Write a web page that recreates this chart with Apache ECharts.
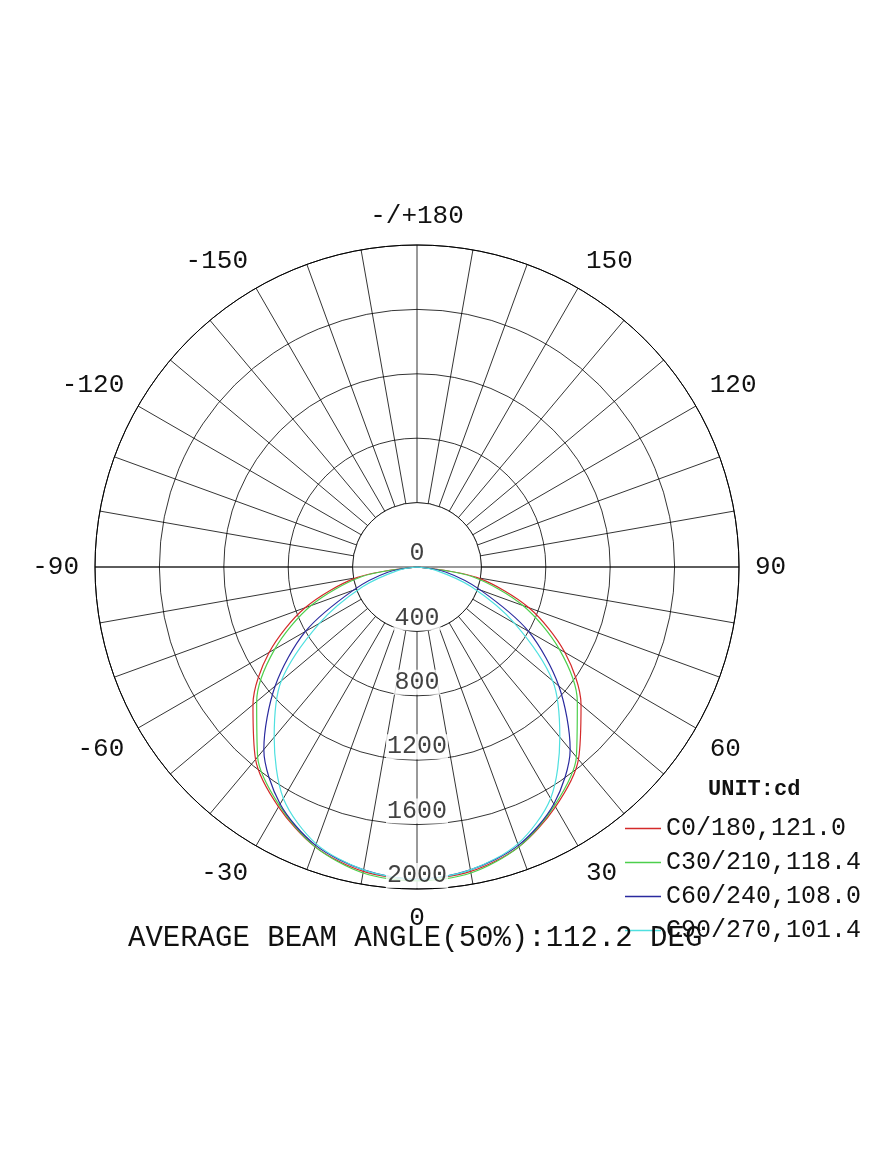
<!DOCTYPE html>
<html><head><meta charset="utf-8">
<script src="https://cdn.jsdelivr.net/npm/echarts@6/dist/echarts.min.js"></script>
<style>html,body{margin:0;padding:0;background:#fff}#c{width:875px;height:1166px}</style>
</head><body><div id="c"></div>
<script>
const angles = [-90,-80,-70,-60,-50,-40,-30,-20,-10,0,10,20,30,40,50,60,70,80,90];
const c0  = [0,380,740,1060,1330,1560,1720,1850,1920,1940,1920,1850,1720,1560,1330,1060,740,380,0];
const c30 = [0,350,700,1020,1300,1540,1710,1850,1930,1950,1930,1850,1710,1540,1300,1020,700,350,0];
const c60 = [0,180,420,800,1150,1480,1700,1840,1910,1940,1910,1840,1700,1480,1150,800,420,180,0];
const c90 = [0,120,360,700,1100,1380,1660,1830,1910,1940,1910,1830,1660,1380,1100,700,360,120,0];
const names = ['C0/180,121.0','C30/210,118.4','C60/240,108.0','C90/270,101.4'];
const colors = ['#d42a2a','#4ccf4c','#2a2a9e','#4fe0e0'];
const ringLabels = [0,400,800,1200,1600,2000];

const CX=417, CY=567, R=322;
const font='Liberation Mono';
const chart = echarts.init(document.getElementById('c'));
const mk = (d)=>angles.map((a,i)=>[d[i],a]);
const series = [c0,c30,c60,c90].map((d,i)=>({
  type:'line', name:names[i], coordinateSystem:'polar', data:mk(d),
  smooth:0.3, showSymbol:false, z:5,
  lineStyle:{color:colors[i],width:1.2}, itemStyle:{color:colors[i]}
}));
series.push({
  type:'scatter', coordinateSystem:'polar', symbolSize:0, z:6, silent:true,
  data:ringLabels.map(v=>[v,0]),
  label:{show:true,position:'top',distance:1,formatter:p=>String(ringLabels[p.dataIndex]),
    fontFamily:font,fontSize:25,color:'#111',backgroundColor:'#fff',padding:[0,1]}
});
chart.setOption({
  animation:false,
  polar:{center:[CX,CY],radius:R},
  angleAxis:{type:'value',min:-180,max:180,interval:10,startAngle:90,clockwise:false,
    axisLine:{lineStyle:{color:'#000',width:1}},axisTick:{show:false},
    splitLine:{show:true,lineStyle:{color:'#000',width:0.8}},
    axisLabel:{margin:16,fontFamily:font,fontSize:26,color:'#111',
      formatter:v=>{if(Math.abs(v)===180)return '-/+180'; return v%30===0?String(v):'';}}},
  radiusAxis:{type:'value',min:0,max:2000,interval:400,axisLine:{show:false},axisTick:{show:false},
    axisLabel:{show:false},splitLine:{show:true,lineStyle:{color:'#000',width:0.8}}},
  graphic:[
    {type:'circle',shape:{cx:CX,cy:CY,r:R/5},style:{fill:'#fff',stroke:'#000',lineWidth:0.8},z:1},
    {type:'line',shape:{x1:CX-R,y1:CY,x2:CX+R,y2:CY},style:{stroke:'#000',lineWidth:0.8},z:1},
    {type:'text',left:128,top:924,style:{text:'AVERAGE BEAM ANGLE(50%):112.2 DEG',fontFamily:font,fontSize:29,fill:'#111'},z:10},
    {type:'text',left:708,top:778,style:{text:'UNIT:cd',fontFamily:font,fontSize:22,fontWeight:'bold',fill:'#111'},z:10}
  ],
  legend:{orient:'vertical',left:620,top:811,itemGap:9,itemWidth:36,itemHeight:1.5,
    icon:'rect',textStyle:{fontFamily:font,fontSize:25,color:'#111'},data:names},
  series
});
</script></body></html>
